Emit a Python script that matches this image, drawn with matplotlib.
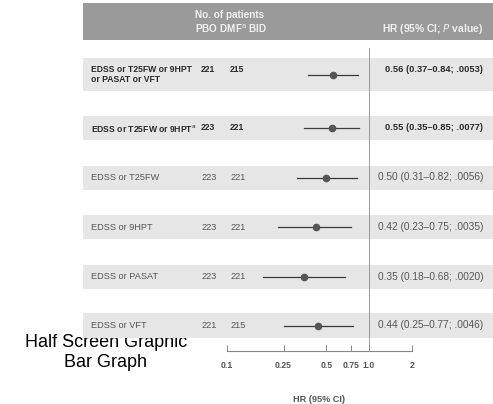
import matplotlib
matplotlib.use("Agg")
import matplotlib.pyplot as plt
import numpy as np

plt.rcParams['font.family'] = ['Liberation Sans', 'DejaVu Sans']

# ---- data ----
labels = ["EDSS or T25FW or 9HPT\nor PASAT or VFT",
          "EDSS or T25FW or 9HPT$^{\\mathrm{a}}$",
          "EDSS or T25FW",
          "EDSS or 9HPT",
          "EDSS or PASAT",
          "EDSS or VFT"]
pbo_n = [221, 223, 223, 223, 223, 221]
dmf_n = [215, 221, 221, 221, 221, 215]
hr = [0.56, 0.55, 0.50, 0.42, 0.35, 0.44]
ci_lo = [0.37, 0.35, 0.31, 0.23, 0.18, 0.25]
ci_hi = [0.84, 0.85, 0.82, 0.75, 0.68, 0.77]
p_vals = [".0053", ".0077", ".0056", ".0035", ".0020", ".0046"]
highlight = [True, True, False, False, False, False]
tick_vals = [0.1, 0.25, 0.5, 0.75, 1.0, 2]
tick_labels = ["0.1", "0.25", "0.5", "0.75", "1.0", "2"]

# ---- layout (pixels) ----
W, H = 493, 404
fig = plt.figure(figsize=(W / 100, H / 100), dpi=100)

lay = fig.add_axes([0, 0, 1, 1], zorder=1)
lay.set_xlim(0, W)
lay.set_ylim(H, 0)
lay.axis('off')
lay.patch.set_alpha(0)

row_y = [74.5, 128, 177.5, 227, 276.5, 325.5]
band_h = [33, 24, 24, 24, 24, 25]
x_left = 83

# watermark text below bands
fig.text(106 / W, 1 - 352.5 / H, "Half Screen Graphic\nBar Graph", ha='center', va='center',
         fontsize=13, color='black', linespacing=1.2, zorder=0)

# header band
hdr_col = '#f0f0f0'
lay.fill_between([x_left, W], 3, 40, color='#9a9a9a', lw=0, zorder=1)
lay.text(195, 15, "No. of patients", fontsize=7.2, color=hdr_col, fontweight='bold', va='center')
lay.text(195, 29, "PBO DMF$^{\\mathrm{a}}$ BID", fontsize=7.2, color=hdr_col, fontweight='bold', va='center')
lay.text(483, 29, "HR (95% CI; $\\it{P}$ value)", fontsize=7.4, color=hdr_col, fontweight='bold',
         va='center', ha='right')

for i in range(len(labels)):
    yc = row_y[i]
    lay.fill_between([x_left, W], yc - band_h[i] / 2, yc + band_h[i] / 2, color='#e6e6e6', lw=0, zorder=1)
    if highlight[i]:
        fw, col, fs_lab, fs_hr = 'bold', '#2a2a2a', 6.2, 6.7
    else:
        fw, col, fs_lab, fs_hr = 'normal', '#555555', 6.6, 7.3
    ty = yc - 4.5 if i == 0 else yc
    lay.text(91, yc, labels[i], fontsize=fs_lab, color=col, fontweight=fw, va='center',
             linespacing=1.1, zorder=3)
    lay.text(201, ty, str(pbo_n[i]), fontsize=fs_lab, color=col, fontweight=fw, va='center', zorder=3)
    lay.text(230, ty, str(dmf_n[i]), fontsize=fs_lab, color=col, fontweight=fw, va='center', zorder=3)
    lay.text(483, ty, f"{hr[i]:.2f} ({ci_lo[i]:.2f}\u2013{ci_hi[i]:.2f}; {p_vals[i]})",
             fontsize=fs_hr, color=col, fontweight=fw, va='center', ha='right', zorder=3)

# forest axes (log scale), full figure
fa = fig.add_axes([0, 0, 1, 1], zorder=2)
fa.patch.set_alpha(0)
fa.set_xscale('log')
px_per_dec = 142.0
x_one = 369.0
fa.set_xlim(10 ** (-x_one / px_per_dec), 10 ** ((W - x_one) / px_per_dec))
fa.set_ylim(H, 0)
fa.axis('off')

fa.plot([1.0, 1.0], [48, 351], color='#8a8a8a', lw=0.6, zorder=2)
for i in range(len(hr)):
    fa.plot([ci_lo[i], ci_hi[i]], [row_y[i], row_y[i]], color='#3a3a3a', lw=0.9, zorder=3)
    fa.plot(hr[i], row_y[i], 'o', color='#555555', ms=4.5, zorder=4)

# x axis
x0 = x_one + px_per_dec * np.log10(0.1)
x1 = x_one + px_per_dec * np.log10(2)
xa = fig.add_axes([x0 / W, 1 - 351 / H, (x1 - x0) / W, 0.0001], zorder=3)
xa.patch.set_alpha(0)
xa.set_xscale('log')
xa.set_xlim(0.1, 2)
for s in ['top', 'left', 'right']:
    xa.spines[s].set_visible(False)
xa.spines['bottom'].set_color('#888888')
xa.spines['bottom'].set_linewidth(0.8)
xa.set_yticks([])
xa.set_xticks(tick_vals)
xa.set_xticklabels(tick_labels, fontsize=6.2, fontweight='bold', color='#555555')
xa.minorticks_off()
xa.tick_params(axis='x', direction='in', length=4, width=0.7, color='#888888', pad=7)
xa.set_xlabel("HR (95% CI)", fontsize=6.6, fontweight='bold', color='#555555', labelpad=18)

fig.savefig("out.png", dpi=100)
